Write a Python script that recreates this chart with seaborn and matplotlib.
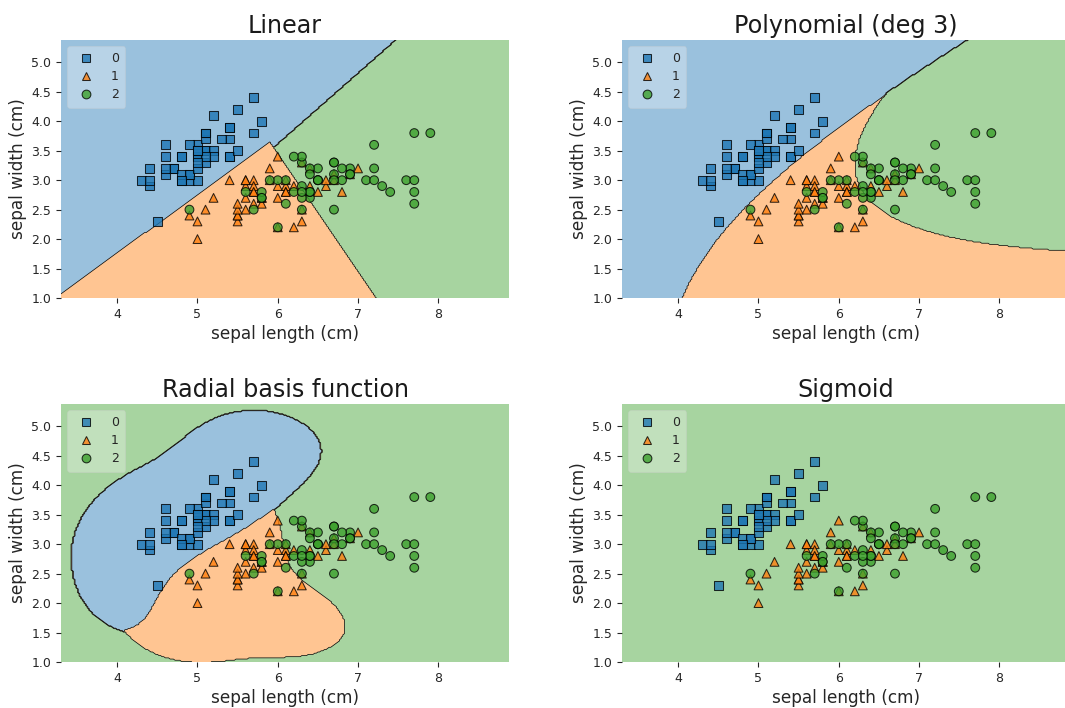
import numpy as np
import pandas as pd
import matplotlib
matplotlib.use("Agg")
import matplotlib.pyplot as plt
from matplotlib.lines import Line2D
import seaborn as sns

# ---------------- data (iris: sepal length / sepal width) ----------------
sepal_length = [
    5.1, 4.9, 4.7, 4.6, 5.0, 5.4, 4.6, 5.0, 4.4, 4.9, 5.4, 4.8, 4.8, 4.3, 5.8, 5.7, 5.4, 5.1, 5.7, 5.1,
    5.4, 5.1, 4.6, 5.1, 4.8, 5.0, 5.0, 5.2, 5.2, 4.7, 4.8, 5.4, 5.2, 5.5, 4.9, 5.0, 5.5, 4.9, 4.4, 5.1,
    5.0, 4.5, 4.4, 5.0, 5.1, 4.8, 5.1, 4.6, 5.3, 5.0,
    7.0, 6.4, 6.9, 5.5, 6.5, 5.7, 6.3, 4.9, 6.6, 5.2, 5.0, 5.9, 6.0, 6.1, 5.6, 6.7, 5.6, 5.8, 6.2, 5.6,
    5.9, 6.1, 6.3, 6.1, 6.4, 6.6, 6.8, 6.7, 6.0, 5.7, 5.5, 5.5, 5.8, 6.0, 5.4, 6.0, 6.7, 6.3, 5.6, 5.5,
    5.5, 6.1, 5.8, 5.0, 5.6, 5.7, 5.7, 6.2, 5.1, 5.7,
    6.3, 5.8, 7.1, 6.3, 6.5, 7.6, 4.9, 7.3, 6.7, 7.2, 6.5, 6.4, 6.8, 5.7, 5.8, 6.4, 6.5, 7.7, 7.7, 6.0,
    6.9, 5.6, 7.7, 6.3, 6.7, 7.2, 6.2, 6.1, 6.4, 7.2, 7.4, 7.9, 6.4, 6.3, 6.1, 7.7, 6.3, 6.4, 6.0, 6.9,
    6.7, 6.9, 5.8, 6.8, 6.7, 6.7, 6.3, 6.5, 6.2, 5.9,
]
sepal_width = [
    3.5, 3.0, 3.2, 3.1, 3.6, 3.9, 3.4, 3.4, 2.9, 3.1, 3.7, 3.4, 3.0, 3.0, 4.0, 4.4, 3.9, 3.5, 3.8, 3.8,
    3.4, 3.7, 3.6, 3.3, 3.4, 3.0, 3.4, 3.5, 3.4, 3.2, 3.1, 3.4, 4.1, 4.2, 3.1, 3.2, 3.5, 3.6, 3.0, 3.4,
    3.5, 2.3, 3.2, 3.5, 3.8, 3.0, 3.8, 3.2, 3.7, 3.3,
    3.2, 3.2, 3.1, 2.3, 2.8, 2.8, 3.3, 2.4, 2.9, 2.7, 2.0, 3.0, 2.2, 2.9, 2.9, 3.1, 3.0, 2.7, 2.2, 2.5,
    3.2, 2.8, 2.5, 2.8, 2.9, 3.0, 2.8, 3.0, 2.9, 2.6, 2.4, 2.4, 2.7, 2.7, 3.0, 3.4, 3.1, 2.3, 3.0, 2.5,
    2.6, 3.0, 2.6, 2.3, 2.7, 3.0, 2.9, 2.9, 2.5, 2.8,
    3.3, 2.7, 3.0, 2.9, 3.0, 3.0, 2.5, 2.9, 2.5, 3.6, 3.2, 2.7, 3.0, 2.5, 2.8, 3.2, 3.0, 3.8, 2.6, 2.2,
    3.2, 2.8, 2.8, 2.7, 3.3, 3.2, 2.8, 3.0, 2.8, 3.0, 2.8, 3.8, 2.8, 2.8, 2.6, 3.0, 3.4, 3.1, 3.0, 3.1,
    3.1, 3.1, 2.7, 3.2, 3.3, 3.0, 2.5, 3.0, 3.4, 3.0,
]
species = [0] * 50 + [1] * 50 + [2] * 50
class_names = ["0", "1", "2"]
titles = ["Linear", "Polynomial (deg 3)", "Radial basis function", "Sigmoid"]
kernels = ["linear", "poly", "rbf", "sigmoid"]

colors = ["#1f77b4", "#ff7f0e", "#3ca02c"]
markers = ["s", "^", "o"]

X = np.column_stack([sepal_length, sepal_width]).astype(float)
y_all = np.array(species)
gammas = {"linear": None, "poly": 1.0 / (X.shape[1] * X.std()), "rbf": 1.85, "sigmoid": 1.0}


def kernel(A, B, kind):
    g = gammas[kind]
    if kind == "linear":
        return A @ B.T
    if kind == "poly":
        return (g * (A @ B.T)) ** 3
    if kind == "rbf":
        d = (A ** 2).sum(1)[:, None] + (B ** 2).sum(1)[None, :] - 2 * A @ B.T
        return np.exp(-g * d)
    return np.tanh(g * (A @ B.T))


def smo(K, y, C=1.0, eps=1e-3, tau=1e-12, max_iter=100000):
    n = len(y)
    Q = (y[:, None] * y[None, :]) * K
    a = np.zeros(n)
    G = -np.ones(n)
    dK = np.diag(K).copy()
    for _ in range(max_iter):
        yG = -y * G
        up = ((y > 0) & (a < C)) | ((y < 0) & (a > 0))
        low = ((y > 0) & (a > 0)) | ((y < 0) & (a < C))
        vu = np.where(up, yG, -np.inf)
        i = int(np.argmax(vu))
        Gmax = vu[i]
        Gmin = np.where(low, yG, np.inf).min()
        if Gmax - Gmin < eps:
            break
        b = Gmax - yG
        quad = K[i, i] + dK - 2 * K[i]
        quad = np.where(quad <= 0, tau, quad)
        cand = low & (yG < Gmax)
        obj = np.where(cand, -(b * b) / quad, np.inf)
        j = int(np.argmin(obj))
        d = b[j] / quad[j]
        d = min(d, C - a[i] if y[i] > 0 else a[i])
        d = min(d, a[j] if y[j] > 0 else C - a[j])
        dai = y[i] * d
        daj = -y[j] * d
        a[i] = min(max(a[i] + dai, 0.0), C)
        a[j] = min(max(a[j] + daj, 0.0), C)
        G += Q[:, i] * dai + Q[:, j] * daj
    yg = y * G
    upper = a >= C - 1e-12
    lower = a <= 1e-12
    free = ~upper & ~lower
    if free.any():
        rho = yg[free].mean()
    else:
        m1 = (upper & (y < 0)) | (lower & (y > 0))
        m2 = (upper & (y > 0)) | (lower & (y < 0))
        ub = yg[m1].min() if m1.any() else np.inf
        lb = yg[m2].max() if m2.any() else -np.inf
        rho = (ub + lb) / 2
    return a, rho


def fit_predict(kind, grid):
    votes = np.zeros((grid.shape[0], 3))
    for ci in range(3):
        for cj in range(ci + 1, 3):
            m = (y_all == ci) | (y_all == cj)
            Xs = X[m]
            ys = np.where(y_all[m] == ci, 1.0, -1.0)
            a, rho = smo(kernel(Xs, Xs, kind), ys)
            sv = a > 0
            dec = kernel(grid, Xs[sv], kind) @ (a[sv] * ys[sv]) - rho
            votes[:, ci] += dec > 0
            votes[:, cj] += dec <= 0
    return np.argmax(votes, axis=1)


res = 0.02
xs = np.arange(X[:, 0].min() - 1, X[:, 0].max() + 1, res)
ys_ = np.arange(X[:, 1].min() - 1, X[:, 1].max() + 1, res)
xx, yy = np.meshgrid(xs, ys_)
grid = np.column_stack([xx.ravel(), yy.ravel()])

df = pd.DataFrame({"sepal length (cm)": sepal_length,
                   "sepal width (cm)": sepal_width,
                   "label": [class_names[c] for c in species]})

sns.set_style("ticks")
plt.rcParams["font.family"] = ["DejaVu Sans"]

fig = plt.figure(figsize=(10.65, 7.08), dpi=100)
W, H = 1065.0, 708.0
positions = [(61, 298), (622, 298), (61, 662), (622, 662)]
aw, ah = 448, 258

for (left, bottom), title, kind in zip(positions, titles, kernels):
    ax = fig.add_axes([left / W, (H - bottom) / H, aw / W, ah / H])
    Z = fit_predict(kind, grid).reshape(xx.shape)
    levels = np.arange(4) - 0.5
    ax.contourf(xx, yy, Z, levels=levels, colors=colors, alpha=0.45, antialiased=True)
    ax.contour(xx, yy, Z, levels=levels, colors="k", linewidths=0.5)
    sns.scatterplot(data=df, x="sepal length (cm)", y="sepal width (cm)",
                    hue="label", style="label", hue_order=class_names, style_order=class_names,
                    palette=colors, markers=markers, s=40, edgecolor="black",
                    linewidth=0.75, alpha=0.8, legend=False, ax=ax, zorder=3)
    ax.set_xlim(xx.min(), xx.max())
    ax.set_ylim(yy.min(), yy.max())
    ax.set_xticks([4, 5, 6, 7, 8])
    ax.set_yticks(np.arange(1.0, 5.01, 0.5))
    ax.set_yticklabels([f"{v:.1f}" for v in np.arange(1.0, 5.01, 0.5)])
    for sp in ax.spines.values():
        sp.set_visible(False)
    ax.tick_params(labelsize=9, length=3.5, width=0.8, colors="0.15")
    ax.set_xlabel("sepal length (cm)", fontsize=12.2, color="0.15", labelpad=3)
    ax.set_ylabel("sepal width (cm)", fontsize=12.2, color="0.15", labelpad=3)
    ax.set_title(title, fontsize=17.2, color="0.1", pad=5)
    handles = [Line2D([], [], linestyle="none", marker=mk, markersize=6.3,
                      markerfacecolor=c, markeredgecolor="black", markeredgewidth=0.75, alpha=0.8)
               for mk, c in zip(markers, colors)]
    leg = ax.legend(handles, class_names, loc="upper left", framealpha=0.3,
                    fontsize=9, handletextpad=1.0, borderpad=0.5, labelspacing=0.4)
    leg.get_frame().set_linewidth(0.8)

fig.savefig("out.png", dpi=100)
